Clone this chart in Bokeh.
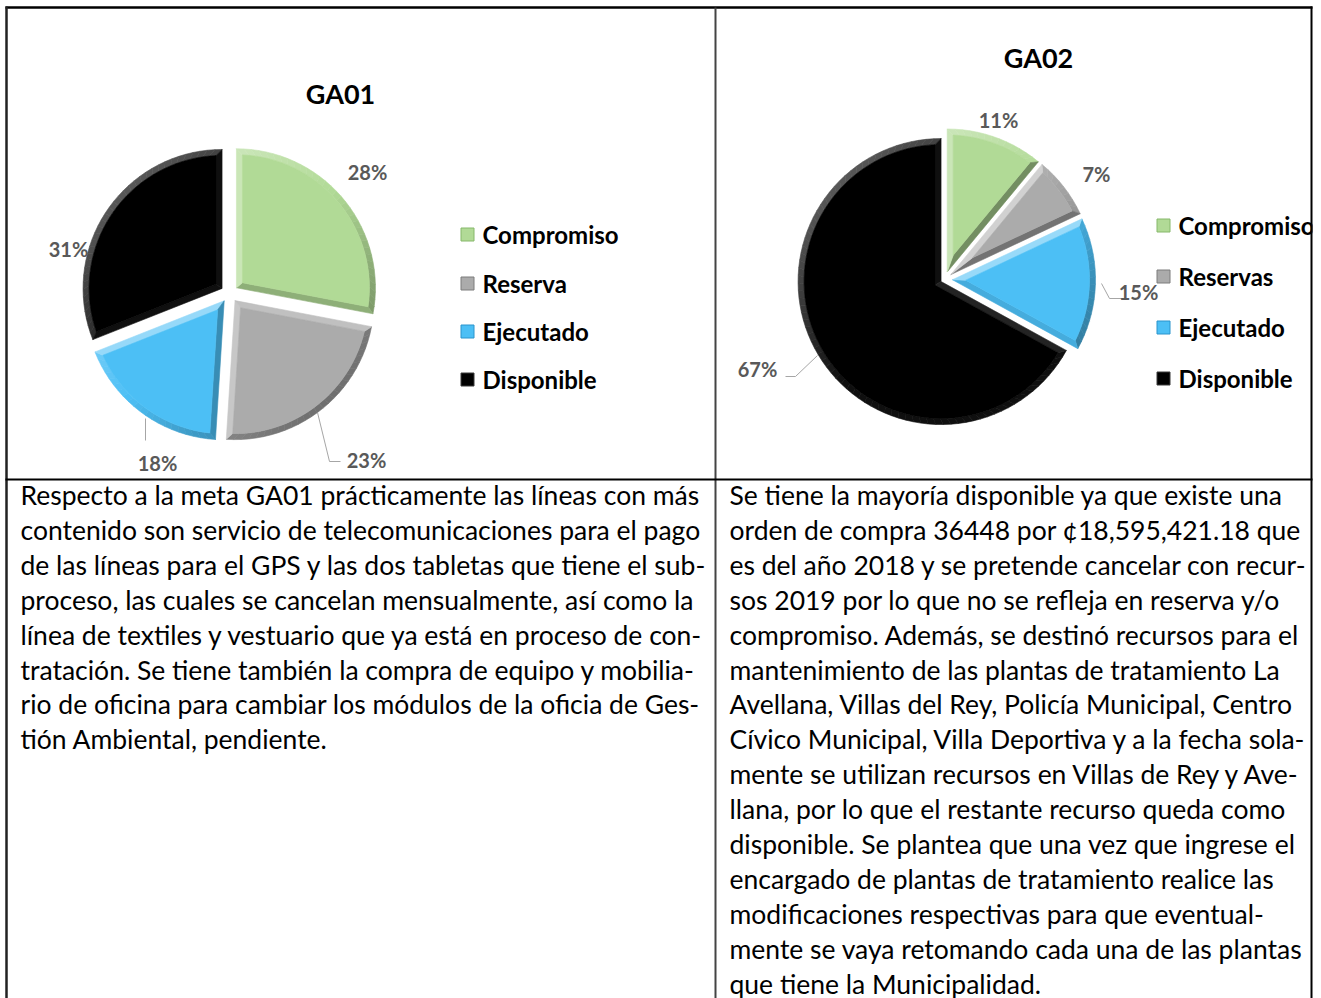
import math
from bokeh.plotting import figure
from bokeh.models import Range1d
from bokeh.core.properties import value
from bokeh.embed import file_html
from bokeh.resources import INLINE

# ---------------- data ----------------
categories_ga01 = ["Compromiso", "Reserva", "Ejecutado", "Disponible"]
values_ga01 = [28, 23, 18, 31]
categories_ga02 = ["Compromiso", "Reservas", "Ejecutado", "Disponible"]
values_ga02 = [11, 7, 15, 67]
slice_colors = ["#b1da96", "#ababab", "#4cbff5", "#000000"]
edge_colors = ["#86b86a", "#7d7d7d", "#2a94cc", "#3a3a3a"]

text_ga01 = [
    "Respecto a la meta GA01 prácticamente las líneas con más",
    "contenido son servicio de telecomunicaciones para el pago",
    "de las líneas para el GPS y las dos tabletas que tiene el sub-",
    "proceso, las cuales se cancelan mensualmente, así como la",
    "línea de textiles y vestuario que ya está en proceso de con-",
    "tratación. Se tiene también la compra de equipo y mobilia-",
    "rio de oficina para cambiar los módulos de la oficia de Ges-",
    "tión Ambiental, pendiente.",
]
text_ga02 = [
    "Se tiene la mayoría disponible ya que existe una",
    "orden de compra 36448 por ¢18,595,421.18 que",
    "es del año 2018 y se pretende cancelar con recur-",
    "sos 2019 por lo que no se refleja en reserva y/o",
    "compromiso. Además, se destinó recursos para el",
    "mantenimiento de las plantas de tratamiento La",
    "Avellana, Villas del Rey, Policía Municipal, Centro",
    "Cívico Municipal, Villa Deportiva y a la fecha sola-",
    "mente se utilizan recursos en Villas de Rey y Ave-",
    "llana, por lo que el restante recurso queda como",
    "disponible. Se plantea que una vez que ingrese el",
    "encargado de plantas de tratamiento realice las",
    "modificaciones respectivas para que eventual-",
    "mente se vaya retomando cada una de las plantas",
    "que tiene la Municipalidad.",
]

# ---------------- layout ----------------
W, H = 1321, 998
FONT = "Lato"


def X(x):
    return x


def Y(y):
    return H - y


def hex2rgb(h):
    h = h.lstrip("#")
    return tuple(int(h[i:i + 2], 16) for i in (0, 2, 4))


def mix(c, target, f):
    a = hex2rgb(c)
    return "#%02x%02x%02x" % tuple(int(round(a[i] + (target[i] - a[i]) * f)) for i in range(3))


def shade(c, normal_angle):
    f = math.cos(normal_angle - math.radians(135))
    if c == "#000000":
        return mix(c, (255, 255, 255), 0.28 * max(f, 0) + 0.06)
    if f >= 0:
        return mix(c, (255, 255, 255), 0.45 * f)
    return mix(c, (0, 0, 0), -0.35 * f)


p = figure(width=W, height=H, x_range=Range1d(0, W), y_range=Range1d(0, H),
           output_backend="svg", toolbar_location=None, min_border=0,
           outline_line_color=None, background_fill_color="white")
p.xaxis.visible = False
p.yaxis.visible = False
p.xgrid.visible = False
p.ygrid.visible = False


def draw_pie(cx, cy, r, vals, explode, bevel=6.0):
    total = float(sum(vals))
    cum = 0.0
    bx, by, bc = [], [], []
    ix, iy = [], []
    for i, v in enumerate(vals):
        a0 = 90 - 360 * cum / total
        cum += v
        a1 = 90 - 360 * cum / total
        mid = math.radians((a0 + a1) / 2)
        ox = X(cx) + explode[i] * math.cos(mid)
        oy = Y(cy) + explode[i] * math.sin(mid)
        s, e = math.radians(a1), math.radians(a0)
        h = (e - s) / 2
        d = bevel / math.sin(h)
        vx, vy = ox + d * math.cos(mid), oy + d * math.sin(mid)
        R = r - bevel
        dt = math.asin(bevel / R)
        col = slice_colors[i]
        n = max(8, int(math.degrees(e - s) / 3))
        inner_pts = []
        for k in range(n + 1):
            ti = (s + dt) + (e - s - 2 * dt) * k / n
            inner_pts.append((ox + R * math.cos(ti), oy + R * math.sin(ti)))
        # arc bevel segments
        for k in range(n):
            t0 = s + (e - s) * k / n
            t1 = s + (e - s) * (k + 1) / n
            q = [(ox + r * math.cos(t0), oy + r * math.sin(t0)),
                 (ox + r * math.cos(t1), oy + r * math.sin(t1)),
                 inner_pts[k + 1], inner_pts[k]]
            bx.append([pt[0] for pt in q])
            by.append([pt[1] for pt in q])
            bc.append(shade(col, (t0 + t1) / 2))
        # straight edges
        q = [(ox, oy), (ox + r * math.cos(s), oy + r * math.sin(s)), inner_pts[0], (vx, vy)]
        bx.append([pt[0] for pt in q]); by.append([pt[1] for pt in q])
        bc.append(shade(col, s - math.pi / 2))
        q = [(ox, oy), (vx, vy), inner_pts[-1], (ox + r * math.cos(e), oy + r * math.sin(e))]
        bx.append([pt[0] for pt in q]); by.append([pt[1] for pt in q])
        bc.append(shade(col, e + math.pi / 2))
        ix.append([vx] + [pt[0] for pt in inner_pts])
        iy.append([vy] + [pt[1] for pt in inner_pts])
    p.patches(xs=bx, ys=by, fill_color=bc, line_color=bc, line_width=0.6)
    p.patches(xs=ix, ys=iy, fill_color=slice_colors, line_color=slice_colors, line_width=0.6)


def draw_labels(vals, positions):
    p.text(x=[X(px) for px, py in positions], y=[Y(py) for px, py in positions],
           text=[f"{v}%" for v in vals], text_align="center", text_baseline="middle",
           text_font=value(FONT), text_font_style="bold", text_font_size="20px",
           text_color="#595959")


def draw_legend(cats, mx, tx, rows):
    p.scatter(x=[X(mx)] * len(cats), y=[Y(ry) for ry in rows], marker="square",
              size=13, fill_color=slice_colors, line_color=edge_colors)
    p.text(x=[X(tx)] * len(cats), y=[Y(ry) for ry in rows], text=cats,
           text_baseline="middle", text_font=value(FONT), text_font_style="bold",
           text_font_size="24px", text_color="black")


# ---- GA01 ----
p.text(x=[X(340)], y=[Y(93)], text=["GA01"], text_align="center", text_baseline="middle",
       text_font=value(FONT), text_font_style="bold", text_font_size="27px", text_color="black")
draw_pie(229, 293, 139, values_ga01, [9, 9, 9, 9])
p.line([X(317), X(329), X(340)], [Y(412), Y(461), Y(461)], line_color="#a6a6a6", line_width=1)
p.line([X(145), X(145)], [Y(418), Y(440)], line_color="#a6a6a6", line_width=1)
draw_labels(values_ga01, [(367, 171), (366, 459), (157, 462), (68, 248)])
draw_legend(categories_ga01, 467, 482, [234, 283, 331, 379])

# ---- GA02 ----
p.text(x=[X(1038)], y=[Y(57)], text=["GA02"], text_align="center", text_baseline="middle",
       text_font=value(FONT), text_font_style="bold", text_font_size="27px", text_color="black")
draw_pie(944, 279, 143, values_ga02, [8, 8, 8, 4])
p.line([X(1101), X(1109), X(1122)], [Y(283), Y(298), Y(298)], line_color="#a6a6a6", line_width=1)
p.line([X(785), X(795), X(817)], [Y(376), Y(376), Y(355)], line_color="#a6a6a6", line_width=1)
draw_labels(values_ga02, [(998, 119), (1096, 173), (1138, 291), (757, 368)])
draw_legend(categories_ga02, 1163, 1178, [225, 276, 327, 378])

# ---- body text ----
LINE = 34.9
base = [494.5 + i * LINE for i in range(len(text_ga02))]
p.text(x=[X(20)] * len(text_ga01), y=[Y(b) for b in base[:len(text_ga01)]],
       text=text_ga01, text_baseline="alphabetic", text_font=value(FONT),
       text_font_size="26.5px", text_color="black")
p.text(x=[X(729)] * len(text_ga02), y=[Y(b) for b in base],
       text=text_ga02, text_baseline="alphabetic", text_font=value(FONT),
       text_font_size="26.5px", text_color="black")

# clip area right of the table
p.quad(left=[X(1312)], right=[X(1321)], top=[Y(0)], bottom=[Y(998)],
       fill_color="white", line_color=None)

# table borders
p.line([X(5), X(1312)], [Y(7), Y(7)], line_color="black", line_width=2.5)
p.line([X(6), X(6)], [Y(6), Y(998)], line_color="#222222", line_width=2.5)
p.line([X(715), X(715)], [Y(7), Y(998)], line_color="#444444", line_width=2)
p.line([X(1311), X(1311)], [Y(6), Y(998)], line_color="black", line_width=2)
p.line([X(5), X(1312)], [Y(479), Y(479)], line_color="black", line_width=2)

open("out.html", "w").write(file_html(p, INLINE))
